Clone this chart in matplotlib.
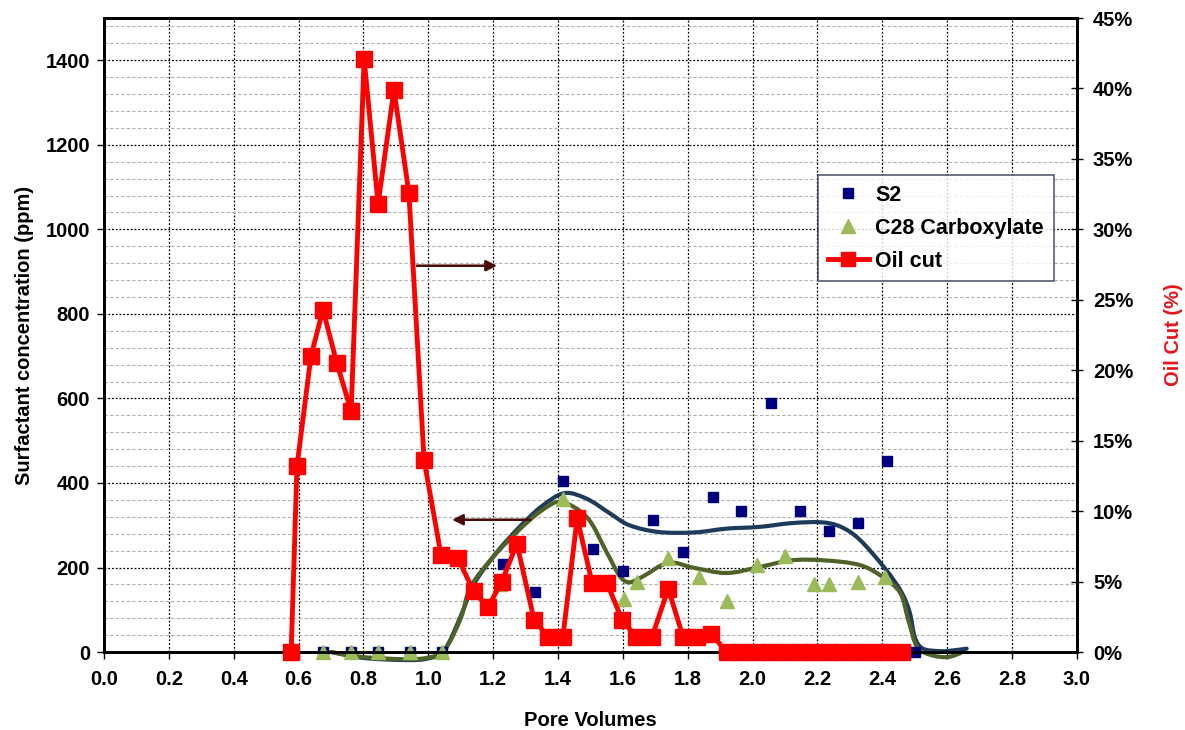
import numpy as np
import matplotlib
matplotlib.use("Agg")
import matplotlib.pyplot as plt
from matplotlib.path import Path
from matplotlib.patches import PathPatch
from matplotlib.lines import Line2D
from matplotlib.ticker import MultipleLocator, FuncFormatter

plt.rcParams['font.family'] = ['Liberation Sans', 'DejaVu Sans']
plt.rcParams['font.weight'] = 'bold'

# oil cut (%) vs pore volumes
oil_pv = [0.577, 0.595, 0.638, 0.675, 0.718, 0.762, 0.802, 0.845, 0.894, 0.940,
          0.987, 1.039, 1.090, 1.140, 1.184, 1.227, 1.273, 1.326, 1.369, 1.415,
          1.459, 1.505, 1.551, 1.597, 1.640, 1.690, 1.740, 1.785, 1.828, 1.872,
          1.920, 1.965, 2.010, 2.055, 2.100, 2.145, 2.190, 2.235, 2.280, 2.325,
          2.370, 2.415, 2.460]
oil_cut = [0.0, 13.2, 21.0, 24.3, 20.5, 17.1, 42.1, 31.8, 39.9, 32.6,
           13.6, 6.9, 6.7, 4.3, 3.2, 5.0, 7.7, 2.3, 1.1, 1.1,
           9.5, 4.9, 4.9, 2.3, 1.1, 1.1, 4.5, 1.1, 1.1, 1.3,
           0, 0, 0, 0, 0, 0, 0, 0, 0, 0,
           0, 0, 0]

# surfactant concentrations (ppm)
s2_pv = [0.675, 0.762, 0.845, 0.944, 1.042, 1.230, 1.329, 1.415, 1.508, 1.600,
         1.693, 1.785, 1.878, 1.964, 2.056, 2.146, 2.236, 2.325, 2.414, 2.500]
s2_ppm = [0, 0, 0, 0, 0, 208, 142, 405, 244, 192,
          313, 237, 367, 334, 590, 334, 287, 306, 452, 0]

c28_pv = [0.675, 0.762, 0.845, 0.944, 1.042, 1.220, 1.415, 1.603, 1.643, 1.739,
          1.834, 1.921, 2.013, 2.100, 2.190, 2.236, 2.325, 2.408]
c28_ppm = [0, 0, 0, 0, 0, 160, 362, 126, 166, 223,
           178, 121, 206, 228, 161, 161, 166, 178]

# hand-drawn trend lines through the surfactant data
s2_trend_pv = [0.70, 0.80, 0.93, 1.00, 1.05, 1.10, 1.14, 1.21, 1.28, 1.35,
               1.42, 1.49, 1.56, 1.62, 1.71, 1.82, 1.92, 2.02, 2.12, 2.21,
               2.27, 2.33, 2.41, 2.46, 2.485, 2.50, 2.525, 2.58, 2.62, 2.66]
s2_trend_ppm = [0, -14, -19, -15, 5, 85, 160, 235, 295, 345,
                376, 362, 328, 300, 284, 283, 292, 296, 305, 307,
                297, 266, 196, 140, 92, 35, 8, 2, 4, 8]

c28_trend_pv = [0.70, 0.80, 0.93, 1.00, 1.05, 1.10, 1.13, 1.20, 1.28, 1.35,
                1.41, 1.49, 1.55, 1.59, 1.62, 1.66, 1.74, 1.82, 1.92, 2.02,
                2.12, 2.22, 2.33, 2.40, 2.455, 2.48, 2.507, 2.55, 2.60, 2.64]
c28_trend_ppm = [0, -12, -17, -13, 5, 80, 154, 225, 289, 335,
                 355, 318, 236, 180, 165, 178, 211, 199, 187, 201,
                 217, 217, 206, 178, 140, 76, 12, -7, -12, -3]


def smooth_path(xs, ys):
    # Catmull-Rom style bezier, like a spreadsheet "smoothed line"
    pts = np.column_stack([xs, ys]).astype(float)
    n = len(pts)
    verts = [pts[0]]
    codes = [Path.MOVETO]
    for i in range(n - 1):
        p0 = pts[i - 1] if i > 0 else pts[i]
        p1 = pts[i]
        p2 = pts[i + 1]
        p3 = pts[i + 2] if i + 2 < n else pts[i + 1]
        verts += [p1 + (p2 - p0) / 6, p2 - (p3 - p1) / 6, p2]
        codes += [Path.CURVE4] * 3
    return Path(verts, codes)


fig = plt.figure(figsize=(11.85, 7.3), dpi=100)
ax = fig.add_axes([0.0878, 0.1068, 0.821, 0.8685])
ax2 = ax.twinx()

ax.set_xlim(0, 3.0)
ax.set_ylim(0, 1500)
ax2.set_ylim(0, 45)

ax.xaxis.set_major_locator(MultipleLocator(0.2))
ax.yaxis.set_minor_locator(MultipleLocator(40))
ax.xaxis.set_major_formatter(FuncFormatter(lambda v, p: f"{v:.1f}"))
ax.set_yticks(np.arange(0, 1401, 200))
ax2.yaxis.set_major_locator(MultipleLocator(5))
ax2.yaxis.set_major_formatter(FuncFormatter(lambda v, p: f"{v:.0f}%"))

ax.grid(which='minor', axis='y', color='#b0b0b0', ls=(0, (3, 2)), lw=0.8)
ax.grid(which='major', axis='both', color='black', ls=(0, (1.5, 1.5)), lw=0.9)
ax.set_axisbelow(True)

for a in (ax, ax2):
    for s in a.spines.values():
        s.set_linewidth(2.0)
        s.set_color('black')

ax.tick_params(axis='both', which='major', direction='out', length=5, width=1,
               labelsize=14.5, pad=5)
ax.tick_params(axis='y', which='minor', length=0)
ax.tick_params(axis='x', pad=8)
ax2.tick_params(axis='y', direction='inout', length=9, width=1,
                labelsize=14.5, pad=7)

# trend curves
for xs, ys, col in ((s2_trend_pv, s2_trend_ppm, '#1f3b5c'),
                    (c28_trend_pv, c28_trend_ppm, '#4f6228')):
    patch = PathPatch(smooth_path(xs, ys), facecolor='none', edgecolor=col,
                      lw=3.0, clip_on=False, zorder=3, capstyle='round')
    ax.add_patch(patch)

ax.plot(s2_pv, s2_ppm, ls='none', marker='s', ms=6.5, color='#00007f',
        clip_on=False, zorder=4)
ax.plot(c28_pv, c28_ppm, ls='none', marker='^', ms=9.5, color='#9bbb59',
        clip_on=False, zorder=5)

ax2.plot(oil_pv, oil_cut, color='#ff0000', lw=3.5, marker='s', ms=12,
         clip_on=False, zorder=6)

# arrows pointing to the matching axis
ax.annotate('', xy=(1.212, 914), xytext=(0.965, 914),
            arrowprops=dict(arrowstyle='-|>', color='#4a0a0a', lw=1.8,
                            mutation_scale=16, shrinkA=0, shrinkB=0))
ax.annotate('', xy=(1.073, 313), xytext=(1.314, 313),
            arrowprops=dict(arrowstyle='-|>', color='#4a0a0a', lw=1.8,
                            mutation_scale=16, shrinkA=0, shrinkB=0))

ax.set_xlabel('Pore Volumes', fontsize=14.5, fontweight='bold', labelpad=16)
ax.set_ylabel('Surfactant concentration (ppm)', fontsize=14.5,
              fontweight='bold', labelpad=8)
ax2.set_ylabel('Oil Cut (%)', fontsize=14.5, fontweight='bold',
               color='#e8141c', labelpad=22)

handles = [
    Line2D([], [], ls='none', marker='s', ms=6.5, color='#00007f'),
    Line2D([], [], ls='none', marker='^', ms=9.5, color='#9bbb59'),
    Line2D([], [], color='#ff0000', lw=3.5, marker='s', ms=10),
]
leg = ax2.legend(handles, ['S2', 'C28 Carboxylate', 'Oil cut'],
                 loc='upper left', bbox_to_anchor=(0.734, 0.752),
                 fontsize=15.5, frameon=True, fancybox=False,
                 borderpad=0.45, labelspacing=0.55, handlelength=1.9,
                 handletextpad=0.3, borderaxespad=0)
leg.get_frame().set_edgecolor('#2b3350')
leg.get_frame().set_linewidth(1.2)
leg.set_zorder(10)

fig.savefig('out.png', dpi=100)
